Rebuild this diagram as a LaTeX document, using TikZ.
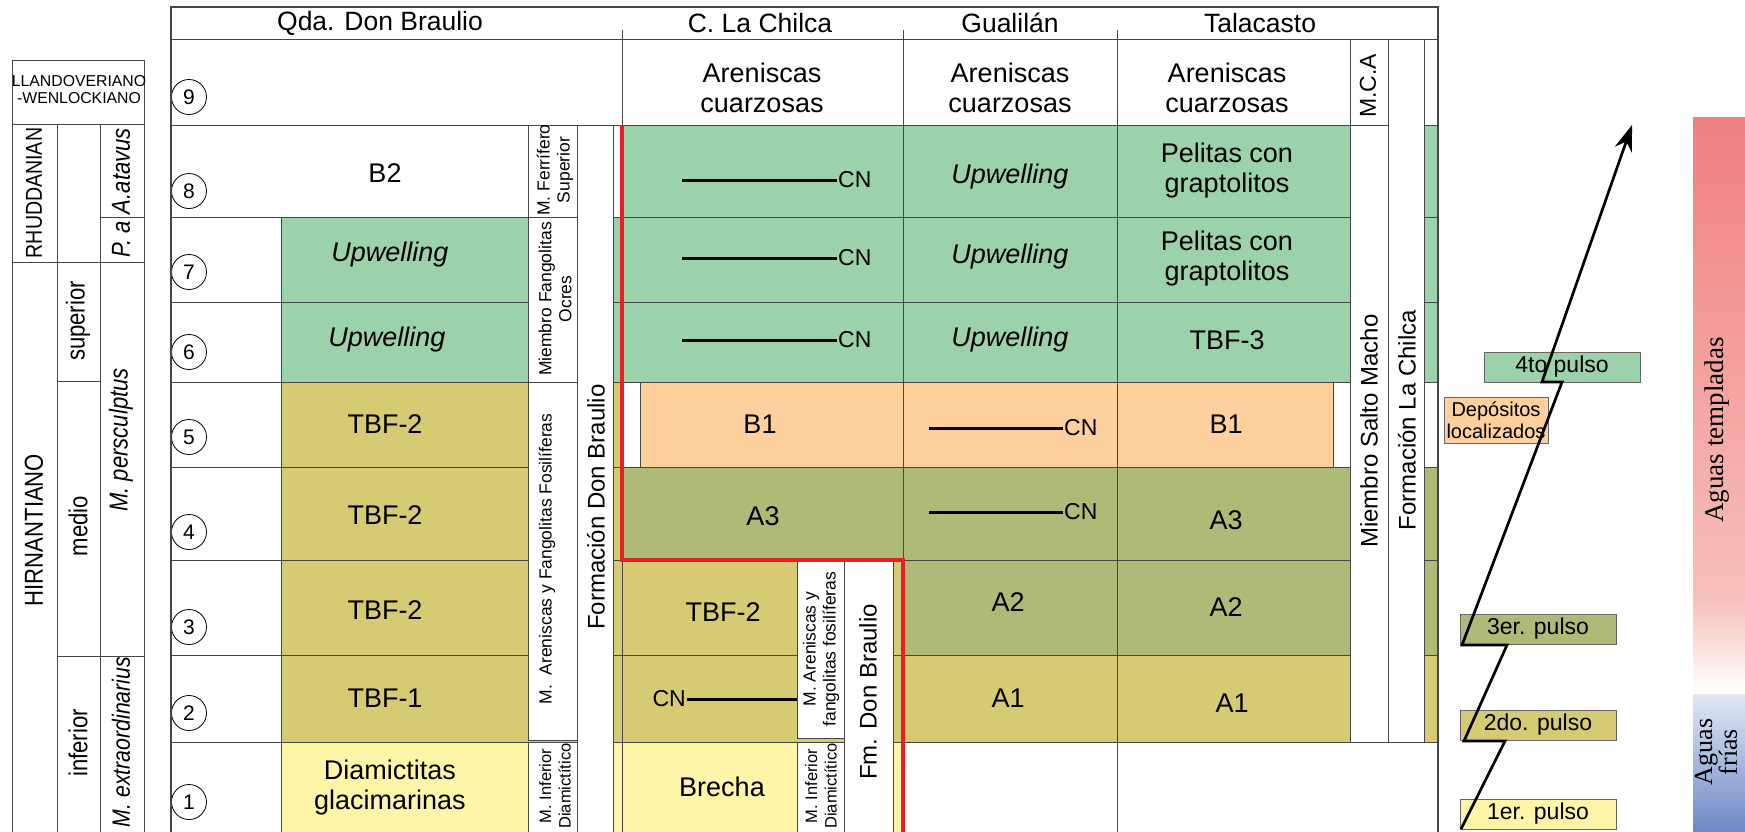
\documentclass[tikz,border=0pt]{standalone}
\usepackage{graphicx}
\usepackage{fontspec}
\setmainfont{Liberation Sans}
\newfontfamily\aguasfont{Liberation Serif}
\usetikzlibrary{arrows.meta}

\definecolor{upwell}{RGB}{155,209,171}
\definecolor{tbf}{RGB}{214,203,114}
\definecolor{aolive}{RGB}{174,187,118}
\definecolor{borange}{RGB}{253,208,158}
\definecolor{diamict}{RGB}{254,245,168}
\definecolor{gridline}{RGB}{70,70,70}
\definecolor{redline}{RGB}{232,32,38}
\definecolor{warmtop}{RGB}{240,128,128}
\definecolor{warmmid}{RGB}{247,192,186}
\definecolor{coldtop}{RGB}{226,231,245}
\definecolor{coldbot}{RGB}{108,136,198}

\newcommand{\narrow}[1]{\scalebox{0.85}[1]{#1}}

\begin{document}
\begin{tikzpicture}[
    x=1pt, y=-1pt,
    cell/.style={draw=gridline, line width=0.9pt},
    memberbox/.style={cell, fill=white},
    txt/.style={font=\fontsize{27}{30}\selectfont, align=center, inner sep=0pt},
    up/.style={txt, font=\fontsize{27}{30}\selectfont\itshape},
    head/.style={font=\fontsize{26.5}{28}\selectfont, inner sep=0pt},
    cn/.style={font=\fontsize{23}{25}\selectfont, inner sep=1pt},
    cnline/.style={line width=3pt},
    member/.style={rotate=90, font=\fontsize{17.5}{20}\selectfont, align=center, inner sep=0pt},
    formation/.style={rotate=90, font=\fontsize{24}{26}\selectfont, inner sep=0pt},
    stage/.style={rotate=90, font=\fontsize{26}{28}\selectfont, inner sep=0pt},
    zone/.style={stage, font=\fontsize{26}{28}\selectfont\itshape},
    level/.style={circle, draw=black, line width=0.8pt, minimum size=35pt,
        inner sep=0pt, font=\fontsize{21}{22}\selectfont},
    pulse/.style={draw=gray!80!black, line width=0.9pt, minimum width=156pt,
        minimum height=30pt, inner sep=0pt, font=\fontsize{23}{24}\selectfont}
]
\useasboundingbox (0,0) rectangle (1745,831);

% Chronostratigraphic table
\draw[cell] (12,60) rectangle (144,836);
\draw[cell] (12,124) -- (144,124);
\draw[cell] (57,124) -- (57,836);
\draw[cell] (100,124) -- (100,836);
\draw[cell] (12,262) -- (144,262);
\draw[cell] (100,217) -- (144,217);
\draw[cell] (57,381) -- (100,381);
\draw[cell] (57,656) -- (144,656);

\node[font=\fontsize{15.8}{17}\selectfont, align=center, inner sep=0pt] (llando) at (79,90)
    {LLANDOVERIANO\\-WENLOCKIANO};
\node[stage, font=\fontsize{23}{25}\selectfont] (rhud) at (34,193) {\narrow{RHUDDANIAN}};
\node[stage] (hirn) at (34,530) {\narrow{HIRNANTIANO}};
\node[stage] (sup) at (78,321) {\narrow{superior}};
\node[stage] (med) at (78,526) {\narrow{medio}};
\node[stage] (inf) at (78,743) {\narrow{inferior}};
\node[zone] (atav) at (121,171) {\narrow{A.atavus}};
\node[zone] (pa) at (121,239) {\narrow{P. a}};
\node[zone] (persc) at (121,440) {\narrow{M. persculptus}};
\node[zone, font=\fontsize{25}{27}\selectfont\itshape] (extra) at (121,742) {\narrow{M. extraordinarius}};

% Qda. Don Braulio
\path[cell, fill=white] (171,39) rectangle (622,125);
\path[cell, fill=white] (171,125) rectangle (622,217);
\foreach \ya/\yb in {217/302, 302/382} {
    \path[cell, fill=white] (171,\ya) rectangle (281,\yb);
    \path[cell, fill=upwell] (281,\ya) rectangle (622,\yb);
}
\foreach \ya/\yb in {382/467, 467/560, 560/655, 655/742} {
    \path[cell, fill=white] (171,\ya) rectangle (281,\yb);
    \path[cell, fill=tbf] (281,\ya) rectangle (622,\yb);
}
\path[cell, fill=white] (171,742) rectangle (281,836);
\path[cell, fill=diamict] (281,742) rectangle (622,836);

% C. La Chilca
\path[cell, fill=white] (622,39) rectangle (903,125);
\foreach \ya/\yb in {125/217, 217/302, 302/382}
    \path[cell, fill=upwell] (622,\ya) rectangle (903,\yb);
\path[cell, fill=white] (622,382) rectangle (640,467);
\path[cell, fill=borange] (640,382) rectangle (903,467);
\path[cell, fill=aolive] (622,467) rectangle (903,560);
\path[cell, fill=tbf] (622,560) rectangle (903,655);
\path[cell, fill=tbf] (622,655) rectangle (903,742);
\path[cell, fill=diamict] (622,742) rectangle (903,836);

% Gualilan and Talacasto
\foreach \xa/\xb in {903/1117, 1117/1350} {
    \path[cell, fill=white] (\xa,39) rectangle (\xb,125);
    \path[cell, fill=upwell] (\xa,125) rectangle (\xb,217);
    \path[cell, fill=upwell] (\xa,217) rectangle (\xb,302);
    \path[cell, fill=upwell] (\xa,302) rectangle (\xb,382);
    \path[cell, fill=aolive] (\xa,467) rectangle (\xb,560);
    \path[cell, fill=aolive] (\xa,560) rectangle (\xb,655);
    \path[cell, fill=tbf] (\xa,655) rectangle (\xb,742);
}
\path[cell, fill=borange] (903,382) rectangle (1117,467);
\path[cell, fill=borange] (1117,382) rectangle (1333,467);
\path[cell, fill=white] (1333,382) rectangle (1350,467);
\path[cell, fill=white] (903,742) rectangle (1117,836);
\path[cell, fill=white] (1117,742) rectangle (1438,836);

% thin strip at the right edge
\path[cell, fill=white] (1424,39) rectangle (1438,125);
\foreach \ya/\yb in {125/217, 217/302, 302/382}
    \path[cell, fill=upwell] (1424,\ya) rectangle (1438,\yb);
\path[cell, fill=white] (1424,382) rectangle (1438,467);
\path[cell, fill=aolive] (1424,467) rectangle (1438,560);
\path[cell, fill=aolive] (1424,560) rectangle (1438,655);
\path[cell, fill=tbf] (1424,655) rectangle (1438,742);

% member and formation boxes
\path[memberbox] (528,125) rectangle (577,217);
\path[memberbox] (528,217) rectangle (577,382);
\path[memberbox] (528,382) rectangle (577,740);
\path[memberbox] (528,742) rectangle (577,836);
\path[memberbox] (577,125) rectangle (613,836);
\path[memberbox] (797,560) rectangle (844,738);
\path[memberbox] (797,742) rectangle (844,836);
\path[memberbox] (844,560) rectangle (893,836);
\path[memberbox] (1350,39) rectangle (1388,125);
\path[memberbox] (1350,125) rectangle (1388,742);
\path[memberbox] (1388,39) rectangle (1424,742);

\node[member] (ferr) at (555,170) {M. Ferrífero\\Superior};
\node[member] (ocres) at (555,299) {Miembro Fangolitas\\Ocres};
\node[member] (arenA) at (547,559) {M.~~Areniscas y Fangolitas Fosilíferas};
\node[member, font=\fontsize{16.5}{19.5}\selectfont] (diamA) at (555,786) {M. Inferior\\Diamictítico};
\node[formation] (fdb) at (596,507) {Formación Don Braulio};
\node[member] (arenB) at (821,649) {M. Areniscas y\\fangolitas fosilíferas};
\node[member, font=\fontsize{16.5}{19.5}\selectfont] (diamB) at (821,786) {M. Inferior\\Diamictítico};
\node[formation] (fmdb) at (868,692) {Fm. Don Braulio};
\node[formation, font=\fontsize{23}{25}\selectfont] (mca) at (1368,86) {M.C.A};
\node[formation] (salto) at (1369,431) {Miembro Salto Macho};
\node[formation] (flc) at (1407,420) {Formación La Chilca};

% cell labels
\node[txt] (b2) at (385,173) {B2};
\node[up] (upQ7) at (390,255) {Upwelling};
\node[up] (upQ6) at (387,340) {Upwelling};
\node[txt] (tbfQ5) at (385,424) {TBF-2};
\node[txt] (tbfQ4) at (385,515) {TBF-2};
\node[txt] (tbfQ3) at (385,610) {TBF-2};
\node[txt] (tbfQ2) at (385,698) {TBF-1};
\node[txt] (diam) at (390,788) {Diamictitas\\glacimarinas};

\node[txt] (arenC) at (762,88) {Areniscas\\cuarzosas};
\node[txt] (b1C) at (760,424) {B1};
\node[txt] (a3C) at (763,516) {A3};
\node[txt] (tbfC3) at (723,612) {TBF-2};
\node[txt] (brecha) at (722,787) {Brecha};

\node[txt] (arenG) at (1010,88) {Areniscas\\cuarzosas};
\node[up] (upG8) at (1010,177) {Upwelling};
\node[up] (upG7) at (1010,257) {Upwelling};
\node[up] (upG6) at (1010,340) {Upwelling};
\node[txt] (a2G) at (1008,602) {A2};
\node[txt] (a1G) at (1008,698) {A1};

\node[txt] (arenT) at (1227,88) {Areniscas\\cuarzosas};
\node[txt] (pelT8) at (1227,171) {Pelitas con\\graptolitos};
\node[txt] (pelT7) at (1227,259) {Pelitas con\\graptolitos};
\node[txt] (tbfT6) at (1227,340) {TBF-3};
\node[txt] (b1T) at (1226,424) {B1};
\node[txt] (a3T) at (1226,520) {A3};
\node[txt] (a2T) at (1226,607) {A2};
\node[txt] (a1T) at (1232,703) {A1};

% condensed sections
\node[cn, anchor=west] (cnC8) at (837,180) {CN};
\node[cn, anchor=west] (cnC7) at (837,258) {CN};
\node[cn, anchor=west] (cnC6) at (837,340) {CN};
\coordinate (cnC8s) at (682,180);
\coordinate (cnC7s) at (682,258);
\coordinate (cnC6s) at (682,340);
\draw[cnline] (cnC8s) -- (cnC8.west);
\draw[cnline] (cnC7s) -- (cnC7.west);
\draw[cnline] (cnC6s) -- (cnC6.west);
\node[cn, anchor=east] (cnC2) at (687,699) {CN};
\coordinate (cnC2e) at (797,699);
\draw[cnline] (cnC2.east) -- (cnC2e);
\node[cn, anchor=west] (cnG5) at (1063,428) {CN};
\node[cn, anchor=west] (cnG4) at (1063,512) {CN};
\coordinate (cnG5s) at (929,428);
\coordinate (cnG4s) at (929,512);
\draw[cnline] (cnG5s) -- (cnG5.west);
\draw[cnline] (cnG4s) -- (cnG4.west);

% levels
\foreach \n/\y in {9/97, 8/191, 7/272, 6/352, 5/437, 4/532, 3/627, 2/713, 1/802}
    \node[level] (lv\n) at (189,\y) {\n};

% La Chilca boundary
\draw[redline, line width=3.4pt] (622,125) -- (622,560) -- (903,560) -- (903,836);

% frame and headings
\draw[gridline, line width=1.1pt] (171,7) rectangle (1438,836);
\draw[gridline, line width=1pt] (171,39) -- (1438,39);
\foreach \x in {622, 903, 1117}
    \draw[gridline, line width=0.9pt] (\x,30) -- (\x,39);
\node[head] (hQ) at (380,23) {Qda. Don Braulio};
\node[head] (hC) at (760,23) {C. La Chilca};
\node[head] (hG) at (1010,23) {Gualilán};
\node[head] (hT) at (1260,23) {Talacasto};

% pulses
\node[pulse, fill=upwell] (p4) at (1562,367) {4to pulso};
\node[pulse, fill=aolive] (p3) at (1538,629) {3er. pulso};
\node[pulse, fill=tbf] (p2) at (1538,725) {2do. pulso};
\node[pulse, fill=diamict] (p1) at (1538,814) {1er. pulso};
\node[draw=gray!80!black, line width=0.9pt, fill=borange, minimum width=104pt,
      minimum height=46pt, inner sep=0pt, align=center,
      font=\fontsize{20}{22}\selectfont] (dep) at (1496,420) {Depósitos\\localizados};

\coordinate (ar0) at (1461,829);
\coordinate (ar1) at (1505,741);
\coordinate (ar2) at (1464,741);
\coordinate (ar3) at (1507,645);
\coordinate (ar4) at (1462,645);
\coordinate (ar5) at (1562,382);
\coordinate (ar6) at (1542,382);
\coordinate (ar7) at (1632,125);
\draw[line width=2.7pt, -{Stealth[length=26pt, width=18pt]}]
    (ar0) -- (ar1) -- (ar2) -- (ar3) -- (ar4) -- (ar5) -- (ar6) -- (ar7);

% water temperature bar
\shade[top color=warmtop, bottom color=warmmid] (1693,117) rectangle (1746,600);
\shade[top color=warmmid, bottom color=white] (1693,599) rectangle (1746,692);
\shade[top color=coldtop, bottom color=coldbot] (1693,694) rectangle (1746,832);
\node[rotate=90, inner sep=0pt, font=\aguasfont\fontsize{27}{28}\selectfont]
    (warm) at (1717,430) {Aguas templadas};
\node[rotate=90, inner sep=0pt, align=center, font=\aguasfont\fontsize{26}{19}\selectfont]
    (cold) at (1716,752) {Aguas\\frías};

\end{tikzpicture}
\end{document}
